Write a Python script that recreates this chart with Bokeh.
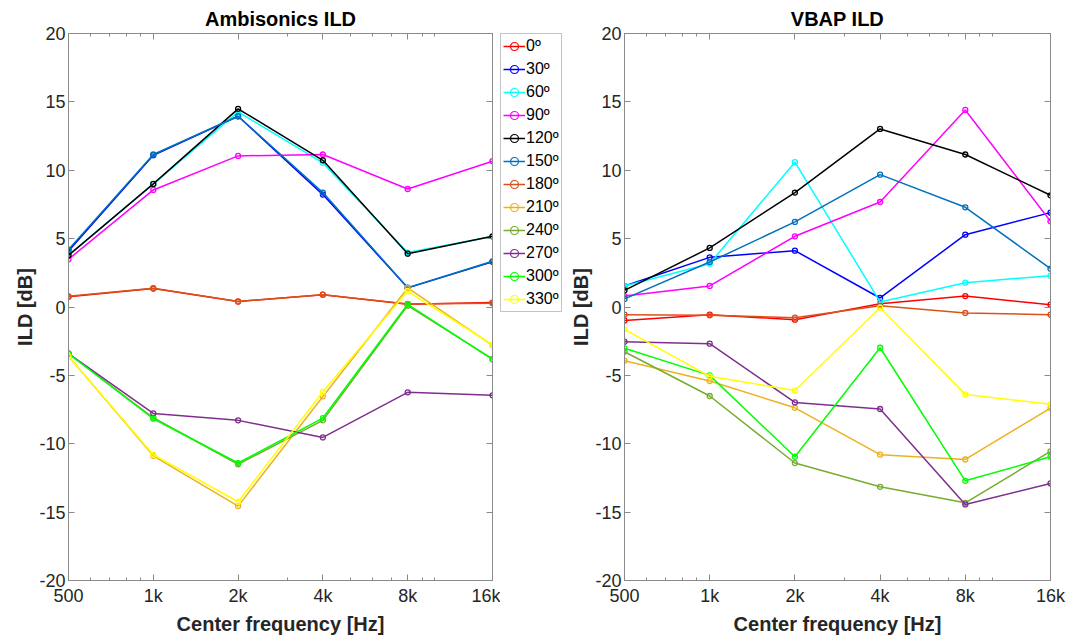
from bokeh.plotting import figure
from bokeh.layouts import row
from bokeh.models import (Range1d, FixedTicker, LogAxis, LinearAxis, Legend, LegendItem,
                          CustomJSTickFormatter, CustomLabelingPolicy)
from bokeh.embed import file_html
from bokeh.resources import INLINE

freqs = [500, 1000, 2000, 4000, 8000, 16000]
tick_labels = {500: "500", 1000: "1k", 2000: "2k", 4000: "4k", 8000: "8k", 16000: "16k"}
minor_freqs = [600, 700, 800, 900, 3000, 5000, 6000, 7000, 9000, 10000]
angles = ["0º", "30º", "60º", "90º", "120º", "150º", "180º", "210º", "240º", "270º", "300º", "330º"]
colors = ["#ff0000", "#0000ff", "#00ffff", "#ff00ff", "#000000", "#0072bd",
          "#d95319", "#edb120", "#77ac30", "#7e2f8e", "#00ff00", "#ffff00"]

# Ambisonics ILD [dB]
amb_0 = [0.75, 1.35, 0.40, 0.90, 0.20, 0.32]
amb_30 = [4.10, 11.10, 13.95, 8.22, 1.40, 3.30]
amb_60 = [3.80, 9.00, 14.27, 10.54, 3.98, 5.15]
amb_90 = [3.49, 8.56, 11.05, 11.15, 8.63, 10.66]
amb_120 = [3.78, 9.00, 14.49, 10.73, 3.90, 5.17]
amb_150 = [4.20, 11.15, 13.95, 8.37, 1.41, 3.34]
amb_180 = [0.78, 1.37, 0.41, 0.90, 0.22, 0.28]
amb_210 = [-3.60, -10.88, -14.56, -6.54, 1.39, -2.80]
amb_240 = [-3.40, -8.10, -11.50, -8.29, 0.10, -3.80]
amb_270 = [-3.41, -7.78, -8.29, -9.54, -6.24, -6.46]
amb_300 = [-3.41, -8.17, -11.41, -8.12, 0.20, -3.83]
amb_330 = [-3.60, -10.80, -14.24, -6.20, 1.15, -2.76]

# VBAP ILD [dB]
vbap_0 = [-0.98, -0.56, -0.93, 0.24, 0.80, 0.17]
vbap_30 = [1.54, 3.63, 4.12, 0.66, 5.29, 6.90]
vbap_60 = [1.54, 3.17, 10.59, 0.37, 1.78, 2.29]
vbap_90 = [0.80, 1.54, 5.17, 7.68, 14.41, 6.27]
vbap_120 = [1.22, 4.32, 8.37, 13.02, 11.15, 8.17]
vbap_150 = [0.59, 3.29, 6.22, 9.68, 7.29, 2.80]
vbap_180 = [-0.56, -0.61, -0.78, 0.10, -0.44, -0.56]
vbap_210 = [-3.93, -5.41, -7.37, -10.80, -11.15, -7.39]
vbap_240 = [-3.27, -6.51, -11.41, -13.15, -14.32, -10.56]
vbap_270 = [-2.54, -2.68, -6.98, -7.46, -14.44, -12.90]
vbap_300 = [-3.02, -5.00, -10.95, -2.98, -12.71, -10.95]
vbap_330 = [-1.63, -5.07, -6.10, -0.05, -6.39, -7.12]

amb_series = [amb_0, amb_30, amb_60, amb_90, amb_120, amb_150,
              amb_180, amb_210, amb_240, amb_270, amb_300, amb_330]
vbap_series = [vbap_0, vbap_30, vbap_60, vbap_90, vbap_120, vbap_150,
               vbap_180, vbap_210, vbap_240, vbap_270, vbap_300, vbap_330]

FONT = "Liberation Sans"
AXIS_COL = "#8a8a8a"
TEXT_COL = "#262626"
LW = 1.5
MS = 5

fmt = CustomJSTickFormatter(code="""
const m = {500:'500',1000:'1k',2000:'2k',4000:'4k',8000:'8k',16000:'16k'};
const k = Math.round(tick);
return (k in m) ? m[k] : '';
""")

yfmt = CustomJSTickFormatter(code="return String(Math.round(tick));")

no_labels = CustomLabelingPolicy(code="""
for (const i of Array.from(indices)) indices.unset(i)
return indices
""")


def style_axis(ax, show_labels=True):
    ax.axis_line_color = AXIS_COL
    ax.major_tick_line_color = AXIS_COL
    ax.minor_tick_line_color = AXIS_COL
    ax.major_tick_in = 6
    ax.major_tick_out = 0
    ax.minor_tick_in = 3
    ax.minor_tick_out = 0
    ax.major_label_text_font = FONT
    ax.major_label_text_color = TEXT_COL
    ax.major_label_text_font_size = "18px"
    ax.axis_label_text_font = FONT
    ax.axis_label_text_font_style = "bold"
    ax.axis_label_text_color = TEXT_COL
    ax.axis_label_text_font_size = "20px"
    if not show_labels:
        ax.major_label_policy = no_labels
        ax.major_label_text_font_size = "0px"
        ax.major_label_standoff = 0
        ax.axis_label_standoff = 0


def make_panel(title, series, width, left, right):
    p = figure(width=width, height=643, x_axis_type="log",
               x_range=Range1d(500, 16000), y_range=Range1d(-20, 20),
               output_backend="svg", toolbar_location=None,
               min_border_left=left, min_border_right=right,
               min_border_top=33, min_border_bottom=63,
               title=title)
    p.title.text_font = FONT
    p.title.text_font_size = "20px"
    p.title.text_font_style = "bold"
    p.title.text_color = "#000000"
    p.title.align = "center"
    p.title.standoff = 7
    p.grid.visible = False
    p.outline_line_color = AXIS_COL
    p.background_fill_color = "white"
    p.border_fill_color = "white"

    xt = FixedTicker(ticks=freqs, minor_ticks=minor_freqs + freqs + [20000])
    yt = FixedTicker(ticks=list(range(-20, 21, 5)), minor_ticks=[])
    p.xaxis.ticker = xt
    p.xaxis.formatter = fmt
    p.yaxis.ticker = yt
    p.yaxis.formatter = yfmt
    p.xaxis.axis_label = "Center frequency [Hz]"
    p.yaxis.axis_label = "ILD [dB]"
    style_axis(p.xaxis[0])
    style_axis(p.yaxis[0])
    p.xaxis.major_label_standoff = 5
    p.xaxis.axis_label_standoff = 4
    p.yaxis.major_label_standoff = 3
    p.yaxis.axis_label_standoff = 0

    top = LogAxis(ticker=xt)
    style_axis(top, show_labels=False)
    p.add_layout(top, "above")
    rgt = LinearAxis(ticker=yt)
    style_axis(rgt, show_labels=False)
    p.add_layout(rgt, "right")

    for col, ys in zip(colors, series):
        p.line(freqs, ys, line_color=col, line_width=LW)
        p.scatter(freqs, ys, marker="circle", size=MS, line_color=col,
                  fill_alpha=0, line_width=1.3)
    return p


p1 = make_panel("Ambisonics ILD", amb_series, 500, 68, 8)
p2 = make_panel("VBAP ILD", vbap_series, 509, 58, 25)

# legend panel between the two axes; its series lie outside its (empty) view
pl = figure(width=66, height=643, output_backend="svg", toolbar_location=None,
            x_axis_location=None, y_axis_location=None,
            min_border_left=0, min_border_right=0, min_border_top=33, min_border_bottom=0,
            x_range=Range1d(0, 1), y_range=Range1d(0, 1))
pl.grid.visible = False
pl.outline_line_color = None
pl.background_fill_color = "white"
pl.border_fill_color = "white"
items = []
for name, col, ys in zip(angles, colors, amb_series):
    l = pl.line(freqs, ys, line_color=col, line_width=LW)
    s = pl.scatter(freqs, ys, marker="circle", size=4, line_color=col, fill_alpha=0, line_width=1.2)
    items.append(LegendItem(label=name, renderers=[l, s]))
leg = Legend(items=items, location="top_left")
leg.label_text_font = FONT
leg.label_text_font_size = "16px"
leg.label_text_color = "#000000"
leg.glyph_width = 22
leg.glyph_height = 20
leg.label_height = 20
leg.label_standoff = 1
leg.padding = 2
leg.spacing = 3
leg.margin = 0
leg.border_line_color = AXIS_COL
leg.background_fill_alpha = 1
pl.add_layout(leg, "center")

layout = row(p1, pl, p2)
open("out.html", "w").write(file_html(layout, INLINE))
